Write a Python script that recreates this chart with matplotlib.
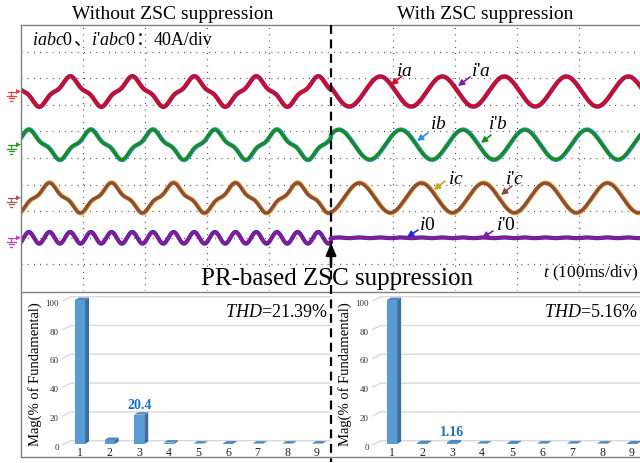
import numpy as np
import matplotlib
matplotlib.use("Agg")
import matplotlib.pyplot as plt
from matplotlib.lines import Line2D
from matplotlib.patches import Polygon, Rectangle

plt.rcParams.update({
    "font.family": "Liberation Serif",
    "mathtext.fontset": "custom",
    "mathtext.rm": "Liberation Serif",
    "mathtext.it": "Liberation Serif:italic",
    "mathtext.bf": "Liberation Serif:bold",
})

# ---- spectrum data (harmonic magnitude, % of fundamental) ----
HARMONIC_ORDER = [1, 2, 3, 4, 5, 6, 7, 8, 9]
MAG_BEFORE = [100, 2.8, 20.4, 1.0, 0.3, 0.4, 0.3, 0.3, 0.3]
MAG_AFTER = [100, 0.6, 1.16, 0.3, 0.5, 0.3, 0.3, 0.3, 0.4]
THD_BEFORE = 21.39
THD_AFTER = 5.16
Y_TICKS = [0, 20, 40, 60, 80, 100]

# ---- scope data, in divisions (10 x 10 grid) ----
CHANNEL_OFFSET = [7.5, 5.5, 3.5, 2.0]        # a, b, c, 0 ground levels
PHASE_SHIFT = [0.0, 1 / 3, 2 / 3]            # a, b, c (fraction of a period)
FUND_AMP = [0.47, 0.55]                      # before / after suppression
THIRD_RATIO = [0.204, 0.0116]                # from the 3rd harmonic bars
ZSC_AMP = [0.20, 0.012]                      # zero-sequence ripple
PEAK_TIME_A = 0.79                           # first peak of phase a, div
PERIOD = 1.0                                 # one fundamental period per div
SWITCH_TIME = 5.0

RED, PURPLE = "#cc1020", "#7b1fa2"
GREEN, BLUE_B = "#1a8c1a", "#2e8fe6"
BROWN, ORANGE = "#8e4a3c", "#d9a21b"
MAGENTA, BLUE_0 = "#8b1a8e", "#2030d0"
BAR_FACE, BAR_SIDE, BAR_TOP = "#5b9bd5", "#3d6e9e", "#4f88c0"
VALUE_BLUE = "#1b6fc2"
FRAME = "#808080"

W, H = 640, 464
fig = plt.figure(figsize=(6.4, 4.64), dpi=100)


def fx(px):
    return px / W


def fy(py):
    return 1 - py / H


def fig_line(xs, ys, **kw):
    fig.add_artist(Line2D([fx(x) for x in xs], [fy(y) for y in ys],
                          transform=fig.transFigure, **kw))


# ================= oscilloscope panel =================
S_LEFT, S_TOP, S_BOT, DIV = 21, 26, 292, 62
DIV_Y = (S_BOT - S_TOP) / 10
ax = fig.add_axes([fx(S_LEFT), fy(S_BOT), 10 * DIV / W, (S_BOT - S_TOP) / H])
ax.set_xlim(0, 10)
ax.set_ylim(0, 10)
ax.axis("off")


def dx(px):
    return (px - S_LEFT) / DIV


def dy(py):
    return (S_BOT - py) / DIV_Y


for k in range(1, 10):
    if k != 5:
        ax.axvline(k, color="#333333", lw=0.9, ls=(0, (0.7, 4.3)), zorder=1)
    ax.axhline(k, color="#333333", lw=0.9, ls=(0, (0.7, 4.3)), zorder=1)

t = np.linspace(0, 10, 5001)


def phase_wave(tt, shift, lag=0.0, scale=1.0):
    th = 2 * np.pi * (tt - PEAK_TIME_A - shift - lag) / PERIOD + np.pi / 2
    amp = np.where(tt < SWITCH_TIME, FUND_AMP[0], FUND_AMP[1]) * scale
    r = np.where(tt < SWITCH_TIME, THIRD_RATIO[0], THIRD_RATIO[1])
    return amp * (np.sin(th) - r * np.sin(3 * th))


def zero_wave(tt, lag=0.0, scale=1.0):
    th = 2 * np.pi * (tt - PEAK_TIME_A - lag) / PERIOD + np.pi / 2
    amp = np.where(tt < SWITCH_TIME, ZSC_AMP[0], ZSC_AMP[1]) * scale
    return -amp * np.sin(3 * th)


pairs = [(PURPLE, RED), (BLUE_B, GREEN), (ORANGE, BROWN)]
for k, (under, top) in enumerate(pairs):
    off = CHANNEL_OFFSET[k]
    ax.plot(t, off + phase_wave(t, PHASE_SHIFT[k], lag=0.006, scale=1.02),
            color=under, lw=3.2, zorder=3)
    ax.plot(t, off + phase_wave(t, PHASE_SHIFT[k]), color=top, lw=2.3, zorder=4)
ax.plot(t, CHANNEL_OFFSET[3] + zero_wave(t, lag=0.004, scale=1.1),
        color=BLUE_0, lw=3.0, zorder=3)
ax.plot(t, CHANNEL_OFFSET[3] + zero_wave(t), color=MAGENTA, lw=2.3, zorder=4)

# ground markers at the left edge
GROUND_COLORS = ["#e04040", "#2a9a2a", "#a05a5a", "#c040c0"]
for off, col in zip(CHANNEL_OFFSET, GROUND_COLORS):
    py = S_BOT - off * DIV_Y
    kw = dict(color=col, lw=0.9)
    fig_line([8, 17], [py, py], **kw)
    fig.add_artist(Polygon([[fx(16), fy(py - 2.5)], [fx(21), fy(py)],
                            [fx(16), fy(py + 2.5)]], closed=True,
                           transform=fig.transFigure, color=col, lw=0))
    fig_line([11, 11], [py, py + 4], **kw)
    fig_line([6.5, 15.5], [py + 4, py + 4], **kw)
    fig_line([8.5, 13.5], [py + 6.5, py + 6.5], **kw)
    fig_line([10, 12], [py + 9, py + 9], **kw)

# frame lines
fig_line([S_LEFT, 641], [S_TOP, S_TOP], color=FRAME, lw=1.0)
fig_line([S_LEFT, S_LEFT], [S_TOP, 458], color=FRAME, lw=1.0)
fig_line([S_LEFT, 641], [293, 293], color=FRAME, lw=1.0)
fig_line([S_LEFT, 641], [458, 458], color=FRAME, lw=1.0)
fig_line([331, 331], [S_TOP, 463], color="black", lw=1.6, ls=(0, (4, 2.5)),
         zorder=10)

# switch-on arrow and texts
ax.annotate("", xy=(SWITCH_TIME, dy(244)), xytext=(SWITCH_TIME, dy(268)),
            arrowprops=dict(arrowstyle="-|>,head_length=0.7,head_width=0.3",
                            color="black", lw=1.8, shrinkA=0, shrinkB=0),
            zorder=11)
ax.text(dx(337), dy(285), "PR-based ZSC suppression", fontsize=18,
        ha="center", va="baseline", zorder=12)
ax.text(dx(638), dy(277), "$t$ (100ms/div)", fontsize=12.5,
        ha="right", va="baseline", zorder=12)

fig.text(fx(173), fy(19), "Without ZSC suppression", fontsize=14,
         ha="center", va="baseline")
fig.text(fx(485), fy(19), "With ZSC suppression", fontsize=14,
         ha="center", va="baseline")

# channel scale note, built from pieces (CJK punctuation needs Noto)
pieces = [("$iabc$0", "Liberation Serif"), ("\u3001", "Noto Sans CJK SC"),
          ("$i$'$abc$0", "Liberation Serif"), ("\uff1a", "Noto Sans CJK SC"),
          ("40A/div", "Liberation Serif")]
prev = ax.text(dx(32), dy(49), pieces[0][0], fontsize=13, family=pieces[0][1],
               va="bottom", ha="left", zorder=12)
for s, fam in pieces[1:]:
    prev = ax.annotate(s, xy=(1, 0), xycoords=prev, fontsize=13, family=fam,
                       va="bottom", ha="left", zorder=12)

# waveform labels with arrows (pixel positions)
LABELS = [
    ("$ia$", RED, (404, 71), (402, 77), (391, 86)),
    ("$i$'$a$", PURPLE, (481, 71), (470, 78), (458, 87)),
    ("$ib$", BLUE_B, (438, 125), (428, 134), (417, 142)),
    ("$i$'$b$", GREEN, (498, 125), (491, 136), (481, 144)),
    ("$ic$", ORANGE, (456, 180), (445, 182), (434, 191)),
    ("$i$'$c$", BROWN, (515, 180), (512, 187), (501, 196)),
    ("$i$0", BLUE_0, (427, 226), (418, 231), (407, 238)),
    ("$i$'0", PURPLE, (506, 226), (493, 232), (482, 239)),
]
for txt, col, tpos, tail, head in LABELS:
    ax.text(dx(tpos[0]), dy(tpos[1]), txt, fontsize=14, ha="center",
            va="center", zorder=12)
    ax.annotate("", xy=(dx(head[0]), dy(head[1])),
                xytext=(dx(tail[0]), dy(tail[1])),
                arrowprops=dict(arrowstyle="-|>,head_length=0.35,head_width=0.18",
                                color=col, lw=1.2, shrinkA=0, shrinkB=0),
                zorder=12)


# ================= harmonic spectra =================
def spectrum_panel(left_px, right_px, zero_px, step_px, mags, thd, note_idx,
                   ylabel_x):
    top_px, bot_px = 296, 456
    base_px, full_px = 445, 301
    ppy = (base_px - full_px) / 100
    bx = fig.add_axes([fx(left_px), fy(bot_px), (right_px - left_px) / W,
                       (bot_px - top_px) / H])
    x0 = (left_px - zero_px) / step_px
    x1 = (right_px - zero_px) / step_px
    bx.set_xlim(x0, x1)
    bx.set_ylim(-(bot_px - base_px) / ppy, (base_px - top_px) / ppy)
    bx.axis("off")

    lift = 2.3
    for v in Y_TICKS:
        bx.plot([x0 + 0.02, x0 + 0.3, x1], [v - 0.5, v + lift, v + lift],
                color="#d9d9d9", lw=1.0, zorder=1, clip_on=False)
        bx.text((left_px - 3 - zero_px) / step_px, v - 2, str(v), fontsize=6.5,
                ha="right", va="center", color="#333333")

    w, ddx, ddy = 0.34, 0.135, 1.7
    for n, m in zip(HARMONIC_ORDER, mags):
        bx.add_patch(Rectangle((n - w / 2, 0), w, m, color=BAR_FACE, lw=0,
                               zorder=3))
        bx.add_patch(Polygon([[n + w / 2, 0], [n + w / 2 + ddx, ddy],
                              [n + w / 2 + ddx, m + ddy], [n + w / 2, m]],
                             closed=True, color=BAR_SIDE, lw=0, zorder=3))
        bx.add_patch(Polygon([[n - w / 2, m], [n + w / 2, m],
                              [n + w / 2 + ddx, m + ddy],
                              [n - w / 2 + ddx, m + ddy]],
                             closed=True, color=BAR_TOP, lw=0, zorder=3))
        bx.text(n, -5.6, str(n), fontsize=8.5, ha="center", va="center",
                color="#222222")

    m = mags[note_idx]
    bx.text(HARMONIC_ORDER[note_idx], m + ddy + 1.0, f"{m:g}", fontsize=10,
            fontweight="bold", color=VALUE_BLUE, ha="center", va="bottom",
            zorder=5)
    bx.text((right_px - 2 - zero_px) / step_px, (base_px - 317) / ppy,
            f"$THD$={thd:.2f}%", fontsize=13, ha="right", va="baseline")
    fig.text(fx(ylabel_x), fy(374), "Mag(% of Fundamental)", rotation=90,
             fontsize=10.5, ha="center", va="center")


spectrum_panel(62, 330, 50.4, 29.6, MAG_BEFORE, THD_BEFORE, 2, 35)
spectrum_panel(372, 640, 362, 30.0, MAG_AFTER, THD_AFTER, 2, 345)

fig.savefig("out.png", dpi=100)
